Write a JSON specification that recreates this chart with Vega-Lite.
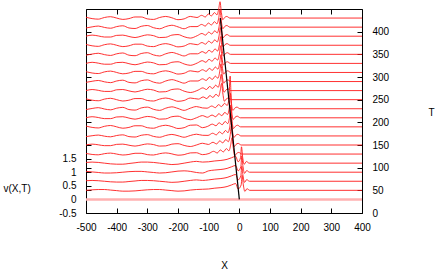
{
"$schema":"https://vega.github.io/schema/vega-lite/v6.json",
"width":276,"height":204,
"autosize":{"type":"none"},
"padding":{"left":86,"top":9,"right":74,"bottom":60},
"background":"white",
"config":{"view":{"stroke":null},
"axis":{"domainColor":"#000","tickColor":"#000","labelColor":"#000","titleColor":"#000","labelFont":"Liberation Sans","titleFont":"Liberation Sans","labelFontSize":10,"titleFontSize":10,"titleFontWeight":"normal","grid":false,"tickSize":-5,"domainWidth":1,"tickWidth":1,"labelFlush":false,"labelOverlap":false}},
"datasets":{
"track":[{"x":0,"v":0},{"x":-62,"v":6.667}],
"taxis":[{"x":-500,"T":0},{"x":400,"T":450}],
"curves":[
{"T":30,"x":-500,"v":0},{"T":30,"x":400,"v":0},
{"T":50,"x":-500,"v":0.333},{"T":50,"x":-480,"v":0.353},{"T":50,"x":-460,"v":0.363},{"T":50,"x":-440,"v":0.363},{"T":50,"x":-420,"v":0.343},{"T":50,"x":-400,"v":0.323},{"T":50,"x":-380,"v":0.303},{"T":50,"x":-360,"v":0.303},{"T":50,"x":-340,"v":0.313},{"T":50,"x":-320,"v":0.333},{"T":50,"x":-300,"v":0.353},{"T":50,"x":-280,"v":0.363},{"T":50,"x":-260,"v":0.363},{"T":50,"x":-240,"v":0.343},{"T":50,"x":-220,"v":0.323},{"T":50,"x":-200,"v":0.303},{"T":50,"x":-180,"v":0.313},{"T":50,"x":-160,"v":0.343},{"T":50,"x":-140,"v":0.363},{"T":50,"x":-120,"v":0.373},
{"T":50,"x":-100,"v":0.383},{"T":50,"x":-80,"v":0.413},{"T":50,"x":-60,"v":0.433},{"T":50,"x":-40,"v":0.473},{"T":50,"x":-25,"v":0.533},{"T":50,"x":-12,"v":0.583},{"T":50,"x":-4,"v":0.383},{"T":50,"x":6,"v":0.533},{"T":50,"x":9,"v":0.883},{"T":50,"x":13,"v":0.533},{"T":50,"x":18,"v":0.293},{"T":50,"x":25,"v":0.393},{"T":50,"x":34,"v":0.333},{"T":50,"x":400,"v":0.333},
{"T":70,"x":-500,"v":0.687},{"T":70,"x":-480,"v":0.697},{"T":70,"x":-460,"v":0.687},{"T":70,"x":-440,"v":0.667},{"T":70,"x":-420,"v":0.647},{"T":70,"x":-400,"v":0.637},{"T":70,"x":-380,"v":0.637},{"T":70,"x":-360,"v":0.657},{"T":70,"x":-340,"v":0.677},{"T":70,"x":-320,"v":0.697},{"T":70,"x":-300,"v":0.697},{"T":70,"x":-280,"v":0.687},{"T":70,"x":-260,"v":0.667},{"T":70,"x":-240,"v":0.647},{"T":70,"x":-220,"v":0.627},{"T":70,"x":-200,"v":0.637},{"T":70,"x":-180,"v":0.667},{"T":70,"x":-160,"v":0.697},{"T":70,"x":-140,"v":0.717},{"T":70,"x":-120,"v":0.697},
{"T":70,"x":-100,"v":0.717},{"T":70,"x":-80,"v":0.747},{"T":70,"x":-60,"v":0.767},{"T":70,"x":-40,"v":0.807},{"T":70,"x":-25,"v":0.867},{"T":70,"x":-12,"v":0.917},{"T":70,"x":-4,"v":0.717},{"T":70,"x":5,"v":0.867},{"T":70,"x":8,"v":1.217},{"T":70,"x":12,"v":0.867},{"T":70,"x":17,"v":0.627},{"T":70,"x":24,"v":0.727},{"T":70,"x":33,"v":0.667},{"T":70,"x":400,"v":0.667},
{"T":90,"x":-500,"v":1.03},{"T":90,"x":-480,"v":1.01},{"T":90,"x":-460,"v":0.99},{"T":90,"x":-440,"v":0.97},{"T":90,"x":-420,"v":0.97},{"T":90,"x":-400,"v":0.98},{"T":90,"x":-380,"v":1.0},{"T":90,"x":-360,"v":1.02},{"T":90,"x":-340,"v":1.03},{"T":90,"x":-320,"v":1.03},{"T":90,"x":-300,"v":1.01},{"T":90,"x":-280,"v":0.99},{"T":90,"x":-260,"v":0.97},{"T":90,"x":-240,"v":0.98},{"T":90,"x":-220,"v":1.01},{"T":90,"x":-200,"v":1.04},{"T":90,"x":-180,"v":1.05},{"T":90,"x":-160,"v":1.03},{"T":90,"x":-140,"v":0.99},{"T":90,"x":-120,"v":0.97},
{"T":90,"x":-100,"v":1.05},{"T":90,"x":-80,"v":1.08},{"T":90,"x":-60,"v":1.1},{"T":90,"x":-40,"v":1.14},{"T":90,"x":-25,"v":1.2},{"T":90,"x":-12,"v":1.25},{"T":90,"x":-4,"v":1.05},{"T":90,"x":5,"v":1.2},{"T":90,"x":8,"v":1.6},{"T":90,"x":12,"v":1.2},{"T":90,"x":17,"v":0.96},{"T":90,"x":24,"v":1.06},{"T":90,"x":33,"v":1.0},{"T":90,"x":400,"v":1.0},
{"T":110,"x":-500,"v":1.359},{"T":110,"x":-480,"v":1.372},{"T":110,"x":-460,"v":1.359},{"T":110,"x":-440,"v":1.333},{"T":110,"x":-420,"v":1.307},{"T":110,"x":-400,"v":1.294},{"T":110,"x":-380,"v":1.294},{"T":110,"x":-360,"v":1.32},{"T":110,"x":-340,"v":1.346},{"T":110,"x":-320,"v":1.372},{"T":110,"x":-300,"v":1.372},{"T":110,"x":-280,"v":1.359},{"T":110,"x":-260,"v":1.333},{"T":110,"x":-240,"v":1.307},{"T":110,"x":-220,"v":1.281},{"T":110,"x":-200,"v":1.294},{"T":110,"x":-180,"v":1.333},{"T":110,"x":-160,"v":1.372},{"T":110,"x":-140,"v":1.398},{"T":110,"x":-120,"v":1.372},
{"T":110,"x":-100,"v":1.383},{"T":110,"x":-80,"v":1.413},{"T":110,"x":-60,"v":1.433},{"T":110,"x":-40,"v":1.473},{"T":110,"x":-25,"v":1.533},{"T":110,"x":-12,"v":1.583},{"T":110,"x":-4,"v":1.383},{"T":110,"x":4,"v":1.533},{"T":110,"x":7,"v":1.933},{"T":110,"x":11,"v":1.533},{"T":110,"x":16,"v":1.293},{"T":110,"x":23,"v":1.393},{"T":110,"x":32,"v":1.333},{"T":110,"x":400,"v":1.333},
{"T":130,"x":-500,"v":1.688},{"T":130,"x":-480,"v":1.653},{"T":130,"x":-460,"v":1.639},{"T":130,"x":-440,"v":1.681},{"T":130,"x":-420,"v":1.702},{"T":130,"x":-400,"v":1.667},{"T":130,"x":-380,"v":1.632},{"T":130,"x":-360,"v":1.653},{"T":130,"x":-340,"v":1.695},{"T":130,"x":-320,"v":1.695},{"T":130,"x":-300,"v":1.646},{"T":130,"x":-280,"v":1.632},{"T":130,"x":-260,"v":1.681},{"T":130,"x":-240,"v":1.709},{"T":130,"x":-220,"v":1.674},{"T":130,"x":-200,"v":1.625},{"T":130,"x":-180,"v":1.646},{"T":130,"x":-160,"v":1.709},{"T":130,"x":-140,"v":1.716},{"T":130,"x":-120,"v":1.646},
{"T":130,"x":-99,"v":1.687},{"T":130,"x":-84,"v":1.767},{"T":130,"x":-72,"v":1.707},{"T":130,"x":-62,"v":1.817},{"T":130,"x":-52,"v":1.747},{"T":130,"x":-42,"v":1.867},{"T":130,"x":-34,"v":1.787},{"T":130,"x":-28,"v":2.017},{"T":130,"x":-24,"v":2.267},{"T":130,"x":-20,"v":1.917},{"T":130,"x":-15,"v":1.607},{"T":130,"x":-9,"v":1.687},{"T":130,"x":-2,"v":1.727},{"T":130,"x":8,"v":1.667},{"T":130,"x":400,"v":1.667},
{"T":150,"x":-500,"v":2.0},{"T":150,"x":-480,"v":2.032},{"T":150,"x":-460,"v":2.008},{"T":150,"x":-440,"v":1.976},{"T":150,"x":-420,"v":1.976},{"T":150,"x":-400,"v":2.024},{"T":150,"x":-380,"v":2.032},{"T":150,"x":-360,"v":1.992},{"T":150,"x":-340,"v":1.96},{"T":150,"x":-320,"v":2.0},{"T":150,"x":-300,"v":2.04},{"T":150,"x":-280,"v":2.016},{"T":150,"x":-260,"v":1.96},{"T":150,"x":-240,"v":1.968},{"T":150,"x":-220,"v":2.032},{"T":150,"x":-200,"v":2.048},{"T":150,"x":-180,"v":1.984},{"T":150,"x":-160,"v":1.944},{"T":150,"x":-140,"v":2.0},{"T":150,"x":-120,"v":2.064},
{"T":150,"x":-101,"v":2.02},{"T":150,"x":-86,"v":2.1},{"T":150,"x":-74,"v":2.04},{"T":150,"x":-64,"v":2.15},{"T":150,"x":-54,"v":2.08},{"T":150,"x":-44,"v":2.2},{"T":150,"x":-36,"v":2.12},{"T":150,"x":-30,"v":2.35},{"T":150,"x":-26,"v":2.7},{"T":150,"x":-22,"v":2.25},{"T":150,"x":-17,"v":1.94},{"T":150,"x":-11,"v":2.02},{"T":150,"x":-4,"v":2.06},{"T":150,"x":6,"v":2.0},{"T":150,"x":400,"v":2.0},
{"T":170,"x":-500,"v":2.309},{"T":170,"x":-480,"v":2.341},{"T":170,"x":-460,"v":2.365},{"T":170,"x":-440,"v":2.325},{"T":170,"x":-420,"v":2.301},{"T":170,"x":-400,"v":2.349},{"T":170,"x":-380,"v":2.373},{"T":170,"x":-360,"v":2.309},{"T":170,"x":-340,"v":2.293},{"T":170,"x":-320,"v":2.357},{"T":170,"x":-300,"v":2.381},{"T":170,"x":-280,"v":2.317},{"T":170,"x":-260,"v":2.285},{"T":170,"x":-240,"v":2.349},{"T":170,"x":-220,"v":2.389},{"T":170,"x":-200,"v":2.341},{"T":170,"x":-180,"v":2.285},{"T":170,"x":-160,"v":2.349},{"T":170,"x":-140,"v":2.397},{"T":170,"x":-120,"v":2.357},
{"T":170,"x":-102,"v":2.353},{"T":170,"x":-87,"v":2.433},{"T":170,"x":-75,"v":2.373},{"T":170,"x":-65,"v":2.483},{"T":170,"x":-55,"v":2.413},{"T":170,"x":-45,"v":2.533},{"T":170,"x":-37,"v":2.453},{"T":170,"x":-31,"v":2.683},{"T":170,"x":-27,"v":3.033},{"T":170,"x":-23,"v":2.583},{"T":170,"x":-18,"v":2.273},{"T":170,"x":-12,"v":2.353},{"T":170,"x":-5,"v":2.393},{"T":170,"x":5,"v":2.333},{"T":170,"x":400,"v":2.333},
{"T":190,"x":-500,"v":2.697},{"T":190,"x":-480,"v":2.647},{"T":190,"x":-460,"v":2.627},{"T":190,"x":-440,"v":2.687},{"T":190,"x":-420,"v":2.717},{"T":190,"x":-400,"v":2.667},{"T":190,"x":-380,"v":2.617},{"T":190,"x":-360,"v":2.647},{"T":190,"x":-340,"v":2.707},{"T":190,"x":-320,"v":2.707},{"T":190,"x":-300,"v":2.637},{"T":190,"x":-280,"v":2.617},{"T":190,"x":-260,"v":2.687},{"T":190,"x":-240,"v":2.727},{"T":190,"x":-220,"v":2.677},{"T":190,"x":-200,"v":2.607},{"T":190,"x":-180,"v":2.637},{"T":190,"x":-160,"v":2.727},{"T":190,"x":-140,"v":2.737},{"T":190,"x":-120,"v":2.637},
{"T":190,"x":-103,"v":2.687},{"T":190,"x":-88,"v":2.767},{"T":190,"x":-76,"v":2.707},{"T":190,"x":-66,"v":2.817},{"T":190,"x":-56,"v":2.747},{"T":190,"x":-46,"v":2.867},{"T":190,"x":-38,"v":2.787},{"T":190,"x":-32,"v":3.017},{"T":190,"x":-28,"v":3.467},{"T":190,"x":-24,"v":2.917},{"T":190,"x":-19,"v":2.607},{"T":190,"x":-13,"v":2.687},{"T":190,"x":-6,"v":2.727},{"T":190,"x":4,"v":2.667},{"T":190,"x":400,"v":2.667},
{"T":210,"x":-500,"v":3.0},{"T":210,"x":-480,"v":3.04},{"T":210,"x":-460,"v":3.01},{"T":210,"x":-440,"v":2.97},{"T":210,"x":-420,"v":2.97},{"T":210,"x":-400,"v":3.03},{"T":210,"x":-380,"v":3.04},{"T":210,"x":-360,"v":2.99},{"T":210,"x":-340,"v":2.95},{"T":210,"x":-320,"v":3.0},{"T":210,"x":-300,"v":3.05},{"T":210,"x":-280,"v":3.02},{"T":210,"x":-260,"v":2.95},{"T":210,"x":-240,"v":2.96},{"T":210,"x":-220,"v":3.04},{"T":210,"x":-200,"v":3.06},{"T":210,"x":-180,"v":2.98},{"T":210,"x":-160,"v":2.93},{"T":210,"x":-140,"v":3.0},{"T":210,"x":-120,"v":3.08},
{"T":210,"x":-104,"v":3.02},{"T":210,"x":-89,"v":3.1},{"T":210,"x":-77,"v":3.04},{"T":210,"x":-67,"v":3.15},{"T":210,"x":-57,"v":3.08},{"T":210,"x":-47,"v":3.2},{"T":210,"x":-39,"v":3.12},{"T":210,"x":-33,"v":3.35},{"T":210,"x":-29,"v":3.9},{"T":210,"x":-25,"v":3.25},{"T":210,"x":-20,"v":2.94},{"T":210,"x":-14,"v":3.02},{"T":210,"x":-7,"v":3.06},{"T":210,"x":3,"v":3.0},{"T":210,"x":400,"v":3.0},
{"T":230,"x":-500,"v":3.303},{"T":230,"x":-480,"v":3.343},{"T":230,"x":-460,"v":3.373},{"T":230,"x":-440,"v":3.323},{"T":230,"x":-420,"v":3.293},{"T":230,"x":-400,"v":3.353},{"T":230,"x":-380,"v":3.383},{"T":230,"x":-360,"v":3.303},{"T":230,"x":-340,"v":3.283},{"T":230,"x":-320,"v":3.363},{"T":230,"x":-300,"v":3.393},{"T":230,"x":-280,"v":3.313},{"T":230,"x":-260,"v":3.273},{"T":230,"x":-240,"v":3.353},{"T":230,"x":-220,"v":3.403},{"T":230,"x":-200,"v":3.343},{"T":230,"x":-180,"v":3.273},{"T":230,"x":-160,"v":3.353},{"T":230,"x":-140,"v":3.413},{"T":230,"x":-120,"v":3.363},
{"T":230,"x":-105,"v":3.353},{"T":230,"x":-90,"v":3.433},{"T":230,"x":-78,"v":3.373},{"T":230,"x":-68,"v":3.483},{"T":230,"x":-58,"v":3.413},{"T":230,"x":-48,"v":3.533},{"T":230,"x":-40,"v":3.453},{"T":230,"x":-34,"v":3.683},{"T":230,"x":-30,"v":4.533},{"T":230,"x":-26,"v":3.583},{"T":230,"x":-21,"v":3.273},{"T":230,"x":-15,"v":3.353},{"T":230,"x":-8,"v":3.393},{"T":230,"x":2,"v":3.333},{"T":230,"x":400,"v":3.333},
{"T":250,"x":-500,"v":3.697},{"T":250,"x":-480,"v":3.647},{"T":250,"x":-460,"v":3.627},{"T":250,"x":-440,"v":3.687},{"T":250,"x":-420,"v":3.717},{"T":250,"x":-400,"v":3.667},{"T":250,"x":-380,"v":3.617},{"T":250,"x":-360,"v":3.647},{"T":250,"x":-340,"v":3.707},{"T":250,"x":-320,"v":3.707},{"T":250,"x":-300,"v":3.637},{"T":250,"x":-280,"v":3.617},{"T":250,"x":-260,"v":3.687},{"T":250,"x":-240,"v":3.727},{"T":250,"x":-220,"v":3.677},{"T":250,"x":-200,"v":3.607},{"T":250,"x":-180,"v":3.637},{"T":250,"x":-160,"v":3.727},
{"T":250,"x":-133,"v":3.687},{"T":250,"x":-118,"v":3.767},{"T":250,"x":-106,"v":3.707},{"T":250,"x":-96,"v":3.817},{"T":250,"x":-86,"v":3.747},{"T":250,"x":-76,"v":3.867},{"T":250,"x":-68,"v":3.787},{"T":250,"x":-62,"v":4.017},{"T":250,"x":-58,"v":4.267},{"T":250,"x":-54,"v":3.917},{"T":250,"x":-49,"v":3.607},{"T":250,"x":-43,"v":3.687},{"T":250,"x":-36,"v":3.727},{"T":250,"x":-26,"v":3.667},{"T":250,"x":400,"v":3.667},
{"T":270,"x":-500,"v":4.0},{"T":270,"x":-480,"v":4.04},{"T":270,"x":-460,"v":4.01},{"T":270,"x":-440,"v":3.97},{"T":270,"x":-420,"v":3.97},{"T":270,"x":-400,"v":4.03},{"T":270,"x":-380,"v":4.04},{"T":270,"x":-360,"v":3.99},{"T":270,"x":-340,"v":3.95},{"T":270,"x":-320,"v":4.0},{"T":270,"x":-300,"v":4.05},{"T":270,"x":-280,"v":4.02},{"T":270,"x":-260,"v":3.95},{"T":270,"x":-240,"v":3.96},{"T":270,"x":-220,"v":4.04},{"T":270,"x":-200,"v":4.06},{"T":270,"x":-180,"v":3.98},{"T":270,"x":-160,"v":3.93},
{"T":270,"x":-134,"v":4.02},{"T":270,"x":-119,"v":4.1},{"T":270,"x":-107,"v":4.04},{"T":270,"x":-97,"v":4.15},{"T":270,"x":-87,"v":4.08},{"T":270,"x":-77,"v":4.2},{"T":270,"x":-69,"v":4.12},{"T":270,"x":-63,"v":4.35},{"T":270,"x":-59,"v":4.6},{"T":270,"x":-55,"v":4.25},{"T":270,"x":-50,"v":3.94},{"T":270,"x":-44,"v":4.02},{"T":270,"x":-37,"v":4.06},{"T":270,"x":-27,"v":4.0},{"T":270,"x":400,"v":4.0},
{"T":290,"x":-500,"v":4.303},{"T":290,"x":-480,"v":4.343},{"T":290,"x":-460,"v":4.373},{"T":290,"x":-440,"v":4.323},{"T":290,"x":-420,"v":4.293},{"T":290,"x":-400,"v":4.353},{"T":290,"x":-380,"v":4.383},{"T":290,"x":-360,"v":4.303},{"T":290,"x":-340,"v":4.283},{"T":290,"x":-320,"v":4.363},{"T":290,"x":-300,"v":4.393},{"T":290,"x":-280,"v":4.313},{"T":290,"x":-260,"v":4.273},{"T":290,"x":-240,"v":4.353},{"T":290,"x":-220,"v":4.403},{"T":290,"x":-200,"v":4.343},{"T":290,"x":-180,"v":4.273},{"T":290,"x":-160,"v":4.353},
{"T":290,"x":-135,"v":4.353},{"T":290,"x":-120,"v":4.433},{"T":290,"x":-108,"v":4.373},{"T":290,"x":-98,"v":4.483},{"T":290,"x":-88,"v":4.413},{"T":290,"x":-78,"v":4.533},{"T":290,"x":-70,"v":4.453},{"T":290,"x":-64,"v":4.683},{"T":290,"x":-60,"v":4.983},{"T":290,"x":-56,"v":4.583},{"T":290,"x":-51,"v":4.273},{"T":290,"x":-45,"v":4.353},{"T":290,"x":-38,"v":4.393},{"T":290,"x":-28,"v":4.333},{"T":290,"x":400,"v":4.333},
{"T":310,"x":-500,"v":4.697},{"T":310,"x":-480,"v":4.647},{"T":310,"x":-460,"v":4.627},{"T":310,"x":-440,"v":4.687},{"T":310,"x":-420,"v":4.717},{"T":310,"x":-400,"v":4.667},{"T":310,"x":-380,"v":4.617},{"T":310,"x":-360,"v":4.647},{"T":310,"x":-340,"v":4.707},{"T":310,"x":-320,"v":4.707},{"T":310,"x":-300,"v":4.637},{"T":310,"x":-280,"v":4.617},{"T":310,"x":-260,"v":4.687},{"T":310,"x":-240,"v":4.727},{"T":310,"x":-220,"v":4.677},{"T":310,"x":-200,"v":4.607},{"T":310,"x":-180,"v":4.637},{"T":310,"x":-160,"v":4.727},
{"T":310,"x":-135,"v":4.687},{"T":310,"x":-120,"v":4.767},{"T":310,"x":-108,"v":4.707},{"T":310,"x":-98,"v":4.817},{"T":310,"x":-88,"v":4.747},{"T":310,"x":-78,"v":4.867},{"T":310,"x":-70,"v":4.787},{"T":310,"x":-64,"v":5.017},{"T":310,"x":-60,"v":5.317},{"T":310,"x":-56,"v":4.917},{"T":310,"x":-51,"v":4.607},{"T":310,"x":-45,"v":4.687},{"T":310,"x":-38,"v":4.727},{"T":310,"x":-28,"v":4.667},{"T":310,"x":400,"v":4.667},
{"T":330,"x":-500,"v":5.0},{"T":330,"x":-480,"v":5.04},{"T":330,"x":-460,"v":5.01},{"T":330,"x":-440,"v":4.97},{"T":330,"x":-420,"v":4.97},{"T":330,"x":-400,"v":5.03},{"T":330,"x":-380,"v":5.04},{"T":330,"x":-360,"v":4.99},{"T":330,"x":-340,"v":4.95},{"T":330,"x":-320,"v":5.0},{"T":330,"x":-300,"v":5.05},{"T":330,"x":-280,"v":5.02},{"T":330,"x":-260,"v":4.95},{"T":330,"x":-240,"v":4.96},{"T":330,"x":-220,"v":5.04},{"T":330,"x":-200,"v":5.06},{"T":330,"x":-180,"v":4.98},{"T":330,"x":-160,"v":4.93},
{"T":330,"x":-136,"v":5.02},{"T":330,"x":-121,"v":5.1},{"T":330,"x":-109,"v":5.04},{"T":330,"x":-99,"v":5.15},{"T":330,"x":-89,"v":5.08},{"T":330,"x":-79,"v":5.2},{"T":330,"x":-71,"v":5.12},{"T":330,"x":-65,"v":5.35},{"T":330,"x":-61,"v":5.65},{"T":330,"x":-57,"v":5.25},{"T":330,"x":-52,"v":4.94},{"T":330,"x":-46,"v":5.02},{"T":330,"x":-39,"v":5.06},{"T":330,"x":-29,"v":5.0},{"T":330,"x":400,"v":5.0},
{"T":350,"x":-500,"v":5.303},{"T":350,"x":-480,"v":5.343},{"T":350,"x":-460,"v":5.373},{"T":350,"x":-440,"v":5.323},{"T":350,"x":-420,"v":5.293},{"T":350,"x":-400,"v":5.353},{"T":350,"x":-380,"v":5.383},{"T":350,"x":-360,"v":5.303},{"T":350,"x":-340,"v":5.283},{"T":350,"x":-320,"v":5.363},{"T":350,"x":-300,"v":5.393},{"T":350,"x":-280,"v":5.313},{"T":350,"x":-260,"v":5.273},{"T":350,"x":-240,"v":5.353},{"T":350,"x":-220,"v":5.403},{"T":350,"x":-200,"v":5.343},{"T":350,"x":-180,"v":5.273},{"T":350,"x":-160,"v":5.353},
{"T":350,"x":-136,"v":5.353},{"T":350,"x":-121,"v":5.433},{"T":350,"x":-109,"v":5.373},{"T":350,"x":-99,"v":5.483},{"T":350,"x":-89,"v":5.413},{"T":350,"x":-79,"v":5.533},{"T":350,"x":-71,"v":5.453},{"T":350,"x":-65,"v":5.683},{"T":350,"x":-61,"v":5.983},{"T":350,"x":-57,"v":5.583},{"T":350,"x":-52,"v":5.273},{"T":350,"x":-46,"v":5.353},{"T":350,"x":-39,"v":5.393},{"T":350,"x":-29,"v":5.333},{"T":350,"x":400,"v":5.333},
{"T":370,"x":-500,"v":5.697},{"T":370,"x":-480,"v":5.647},{"T":370,"x":-460,"v":5.627},{"T":370,"x":-440,"v":5.687},{"T":370,"x":-420,"v":5.717},{"T":370,"x":-400,"v":5.667},{"T":370,"x":-380,"v":5.617},{"T":370,"x":-360,"v":5.647},{"T":370,"x":-340,"v":5.707},{"T":370,"x":-320,"v":5.707},{"T":370,"x":-300,"v":5.637},{"T":370,"x":-280,"v":5.617},{"T":370,"x":-260,"v":5.687},{"T":370,"x":-240,"v":5.727},{"T":370,"x":-220,"v":5.677},{"T":370,"x":-200,"v":5.607},{"T":370,"x":-180,"v":5.637},{"T":370,"x":-160,"v":5.727},
{"T":370,"x":-137,"v":5.687},{"T":370,"x":-122,"v":5.767},{"T":370,"x":-110,"v":5.707},{"T":370,"x":-100,"v":5.817},{"T":370,"x":-90,"v":5.747},{"T":370,"x":-80,"v":5.867},{"T":370,"x":-72,"v":5.787},{"T":370,"x":-66,"v":6.017},{"T":370,"x":-62,"v":6.317},{"T":370,"x":-58,"v":5.917},{"T":370,"x":-53,"v":5.607},{"T":370,"x":-47,"v":5.687},{"T":370,"x":-40,"v":5.727},{"T":370,"x":-30,"v":5.667},{"T":370,"x":400,"v":5.667},
{"T":390,"x":-500,"v":6.0},{"T":390,"x":-480,"v":6.04},{"T":390,"x":-460,"v":6.01},{"T":390,"x":-440,"v":5.97},{"T":390,"x":-420,"v":5.97},{"T":390,"x":-400,"v":6.03},{"T":390,"x":-380,"v":6.04},{"T":390,"x":-360,"v":5.99},{"T":390,"x":-340,"v":5.95},{"T":390,"x":-320,"v":6.0},{"T":390,"x":-300,"v":6.05},{"T":390,"x":-280,"v":6.02},{"T":390,"x":-260,"v":5.95},{"T":390,"x":-240,"v":5.96},{"T":390,"x":-220,"v":6.04},{"T":390,"x":-200,"v":6.06},{"T":390,"x":-180,"v":5.98},{"T":390,"x":-160,"v":5.93},
{"T":390,"x":-137,"v":6.02},{"T":390,"x":-122,"v":6.1},{"T":390,"x":-110,"v":6.04},{"T":390,"x":-100,"v":6.15},{"T":390,"x":-90,"v":6.08},{"T":390,"x":-80,"v":6.2},{"T":390,"x":-72,"v":6.12},{"T":390,"x":-66,"v":6.35},{"T":390,"x":-62,"v":6.65},{"T":390,"x":-58,"v":6.25},{"T":390,"x":-53,"v":5.94},{"T":390,"x":-47,"v":6.02},{"T":390,"x":-40,"v":6.06},{"T":390,"x":-30,"v":6.0},{"T":390,"x":400,"v":6.0},
{"T":410,"x":-500,"v":6.303},{"T":410,"x":-480,"v":6.343},{"T":410,"x":-460,"v":6.373},{"T":410,"x":-440,"v":6.323},{"T":410,"x":-420,"v":6.293},{"T":410,"x":-400,"v":6.353},{"T":410,"x":-380,"v":6.383},{"T":410,"x":-360,"v":6.303},{"T":410,"x":-340,"v":6.283},{"T":410,"x":-320,"v":6.363},{"T":410,"x":-300,"v":6.393},{"T":410,"x":-280,"v":6.313},{"T":410,"x":-260,"v":6.273},{"T":410,"x":-240,"v":6.353},{"T":410,"x":-220,"v":6.403},{"T":410,"x":-200,"v":6.343},{"T":410,"x":-180,"v":6.273},{"T":410,"x":-160,"v":6.353},
{"T":410,"x":-138,"v":6.353},{"T":410,"x":-123,"v":6.433},{"T":410,"x":-111,"v":6.373},{"T":410,"x":-101,"v":6.483},{"T":410,"x":-91,"v":6.413},{"T":410,"x":-81,"v":6.533},{"T":410,"x":-73,"v":6.453},{"T":410,"x":-67,"v":6.683},{"T":410,"x":-63,"v":6.983},{"T":410,"x":-59,"v":6.583},{"T":410,"x":-54,"v":6.273},{"T":410,"x":-48,"v":6.353},{"T":410,"x":-41,"v":6.393},{"T":410,"x":-31,"v":6.333},{"T":410,"x":400,"v":6.333},
{"T":430,"x":-500,"v":6.697},{"T":430,"x":-480,"v":6.647},{"T":430,"x":-460,"v":6.627},{"T":430,"x":-440,"v":6.687},{"T":430,"x":-420,"v":6.717},{"T":430,"x":-400,"v":6.667},{"T":430,"x":-380,"v":6.617},{"T":430,"x":-360,"v":6.647},{"T":430,"x":-340,"v":6.707},{"T":430,"x":-320,"v":6.707},{"T":430,"x":-300,"v":6.637},{"T":430,"x":-280,"v":6.617},{"T":430,"x":-260,"v":6.687},{"T":430,"x":-240,"v":6.727},{"T":430,"x":-220,"v":6.677},{"T":430,"x":-200,"v":6.607},{"T":430,"x":-180,"v":6.637},{"T":430,"x":-160,"v":6.727},
{"T":430,"x":-138,"v":6.687},{"T":430,"x":-123,"v":6.767},{"T":430,"x":-111,"v":6.707},{"T":430,"x":-101,"v":6.817},{"T":430,"x":-91,"v":6.747},{"T":430,"x":-81,"v":6.867},{"T":430,"x":-73,"v":6.787},{"T":430,"x":-67,"v":7.017},{"T":430,"x":-63,"v":7.267},{"T":430,"x":-59,"v":6.917},{"T":430,"x":-54,"v":6.607},{"T":430,"x":-48,"v":6.687},{"T":430,"x":-41,"v":6.727},{"T":430,"x":-31,"v":6.667},{"T":430,"x":400,"v":6.667}
]},
"layer":[
{"data":{"name":"curves"},
"mark":{"type":"line","clip":false,"interpolate":"monotone"},
"encoding":{
"x":{"field":"x","type":"quantitative","scale":{"domain":[-500,400],"nice":false,"zero":false},
"axis":{"orient":"bottom","values":[-500,-400,-300,-200,-100,0,100,200,300,400],"labelExpr":"replace(datum.label,'−','-')","labelPadding":14,"title":"X","titleX":138,"titleY":52,"titleBaseline":"middle"}},
"y":{"field":"v","type":"quantitative","scale":{"domain":[-0.5,7],"nice":false,"zero":false},
"axis":{"orient":"left","values":[-0.5,0,0.3333333,0.5,1,1.1666667,1.5,2,2.8333333,3.6666667,4.5,5.3333333,6.1666667],"labelExpr":"datum.value==-0.5?'-0.5':datum.value==0?'0':datum.value==0.5?'0.5':datum.value==1?'1':datum.value==1.5?'1.5':''","labelPadding":15,"title":"v(X,T)","titleAngle":0,"titleAlign":"left","titleBaseline":"middle","titleX":-83,"titleY":179}},
"detail":{"field":"T","type":"nominal"},
"color":{"condition":{"test":"datum.T==30","value":"#ffb0b0"},"value":"#ff1a1a"},
"strokeWidth":{"condition":{"test":"datum.T==30","value":2.5},"value":0.9}
}},
{"data":{"name":"track"},
"mark":{"type":"line","color":"#000000","strokeWidth":1.2,"clip":false},
"encoding":{
"x":{"field":"x","type":"quantitative","scale":{"domain":[-500,400],"nice":false,"zero":false},"axis":null},
"y":{"field":"v","type":"quantitative","scale":{"domain":[-0.5,7],"nice":false,"zero":false},"axis":null}
}},
{"data":{"name":"taxis"},
"mark":{"type":"point","opacity":0},
"encoding":{
"x":{"field":"x","type":"quantitative","scale":{"domain":[-500,400],"nice":false,"zero":false},
"axis":{"orient":"top","values":[-500,-400,-300,-200,-100,0,100,200,300,400],"labels":false,"title":null}},
"y":{"field":"T","type":"quantitative","scale":{"domain":[0,450],"nice":false,"zero":false},
"axis":{"orient":"right","values":[0,50,100,150,200,250,300,350,400],"labelPadding":15,"title":"T","titleAngle":0,"titleAlign":"center","titleBaseline":"middle","titleX":69,"titleY":103}}
}}
],
"resolve":{"scale":{"x":"independent","y":"independent"}}
}
